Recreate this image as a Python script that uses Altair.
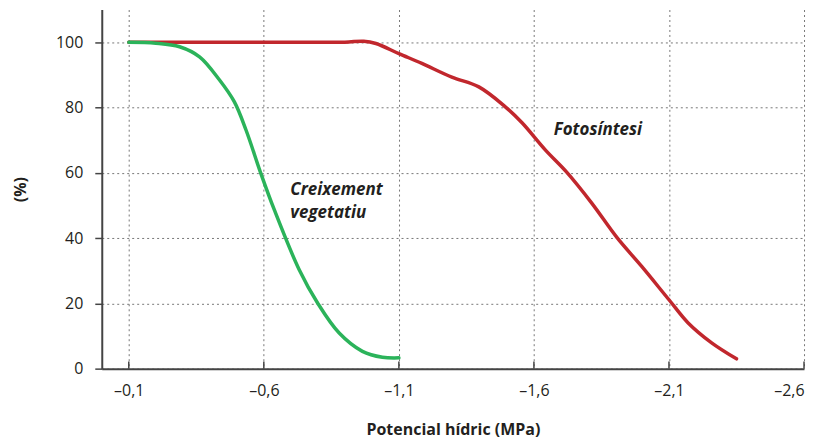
import altair as alt
import pandas as pd

# Fotosíntesi (red)
foto_x = [-0.1, -0.4, -0.7, -0.9, -0.97, -1.015, -1.1, -1.185, -1.296, -1.396, -1.494, -1.556, -1.642, -1.722, -1.814, -1.907, -1.999, -2.1, -2.171, -2.258, -2.35]
foto_y = [100, 100, 100, 100, 100.3, 99.6, 96.5, 93.5, 89.3, 86.3, 80.2, 75.3, 67, 60.1, 50.7, 40.2, 31.3, 21.1, 14, 7.9, 3.0]
# Creixement vegetatiu (green)
creix_x = [-0.1, -0.2, -0.288, -0.362, -0.436, -0.491, -0.534, -0.589, -0.639, -0.731, -0.799, -0.879, -0.965, -1.039, -1.1]
creix_y = [100, 99.7, 98.6, 95.5, 88.4, 81.7, 73.1, 59.8, 48.6, 30.3, 20.1, 10.9, 5.3, 3.5, 3.3]

x_ticks = [-0.1, -0.6, -1.1, -1.6, -2.1, -2.6]
y_ticks = [0, 20, 40, 60, 80, 100]

labels_text = ["Creixement", "vegetatiu", "Fotosíntesi"]
labels_x = [-0.698, -0.698, -1.673]
labels_y = [54.7, 47.7, 73.1]

FONT = "Open Sans"
TXT = "#231f20"

xs = alt.Scale(domain=[0, -2.6], nice=False, zero=False)
ys = alt.Scale(domain=[0, 110], nice=False, zero=False)

lines = pd.DataFrame(
    {"x": foto_x + creix_x,
     "y": foto_y + creix_y,
     "s": ["Fotosíntesi"] * len(foto_x) + ["Creixement"] * len(creix_x)}
)

label_expr = "'–' + replace(format(abs(datum.value), '.1f'), '.', ',')"

base = alt.Chart(lines).mark_line(strokeWidth=3.5, interpolate="catmull-rom", strokeCap="round").encode(
    x=alt.X("x:Q", scale=xs, title="Potencial hídric (MPa)",
            axis=alt.Axis(values=x_ticks, labelExpr=label_expr, ticks=False, tickSize=0,
                          labelPadding=14, titlePadding=23, grid=True,
                          gridDash=[2, 3], gridColor="#777", gridWidth=1,
                          domainColor="#444", domainWidth=2)),
    y=alt.Y("y:Q", scale=ys, title="(%)",
            axis=alt.Axis(values=y_ticks, tickSize=7, tickColor="#444", tickWidth=1.5,
                          labelPadding=12, titlePadding=27, grid=True,
                          gridDash=[2, 3], gridColor="#777", gridWidth=1,
                          domainColor="#444", domainWidth=2)),
    color=alt.Color("s:N", scale=alt.Scale(domain=["Fotosíntesi", "Creixement"],
                                           range=["#c1272d", "#2bb35a"]), legend=None),
)

tick_df = pd.DataFrame({"x": x_ticks, "y0": [0] * len(x_ticks), "y1": [2.2] * len(x_ticks)})
xticks = alt.Chart(tick_df).mark_rule(color="#444", strokeWidth=1.5).encode(
    x=alt.X("x:Q", scale=xs), y=alt.Y("y0:Q", scale=ys), y2="y1:Q")

lab_df = pd.DataFrame({"t": labels_text, "x": labels_x, "y": labels_y})
labels = alt.Chart(lab_df).mark_text(align="left", baseline="middle", font=FONT,
                                     fontSize=17, fontWeight="bold", fontStyle="italic",
                                     color=TXT).encode(
    x=alt.X("x:Q", scale=xs), y=alt.Y("y:Q", scale=ys), text="t:N")

chart = alt.layer(base, xticks, labels).properties(
    width=704, height=360,
    autosize=alt.AutoSizeParams(type="none"),
    padding={"left": 94, "top": 1, "right": 10, "bottom": 70},
).configure_view(stroke=None).configure_axis(
    labelFont=FONT, labelFontSize=16, labelColor=TXT,
    titleFont=FONT, titleFontSize=16, titleColor=TXT, titleFontWeight="bold",
)

chart.save("out.html", embed_options={"renderer": "svg", "actions": False})
